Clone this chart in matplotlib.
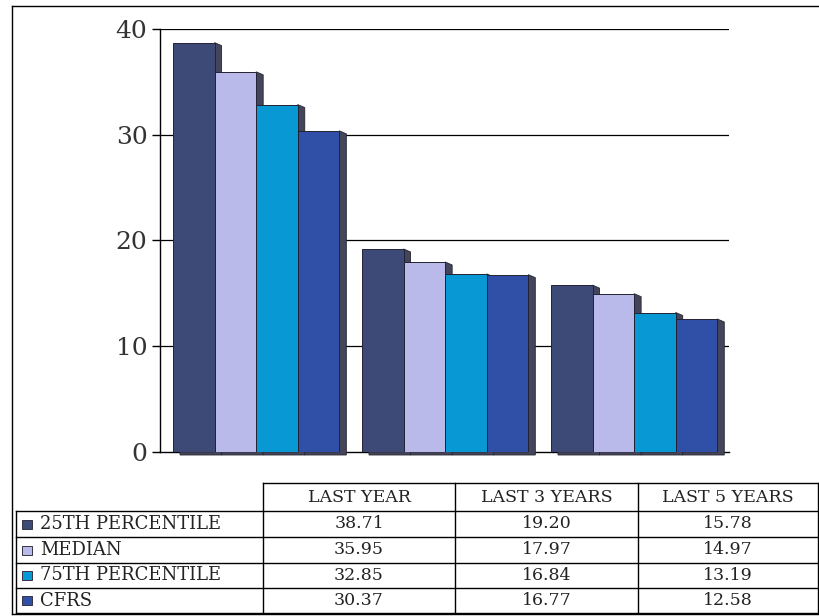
import matplotlib.pyplot as plt
import numpy as np
from matplotlib.patches import Rectangle, Polygon
from matplotlib.lines import Line2D

periods = ["LAST YEAR", "LAST 3 YEARS", "LAST 5 YEARS"]
series = ["25TH PERCENTILE", "MEDIAN", "75TH PERCENTILE", "CFRS"]
p25 = [38.71, 19.20, 15.78]
median = [35.95, 17.97, 14.97]
p75 = [32.85, 16.84, 13.19]
cfrs = [30.37, 16.77, 12.58]
colors = ["#3d4a78", "#b9b9ea", "#0898d4", "#3050a8"]

values = [p25, median, p75, cfrs]
W, H = 819, 616
fig = plt.figure(figsize=(W / 100, H / 100), dpi=100)

def fx(x):
    return x / W

def fy(y):
    return 1 - y / H

ax = fig.add_axes([fx(160), fy(452), (729 - 160) / W, (452 - 29) / H])
ax.set_xlim(-0.519, 2.492)
ax.set_ylim(0, 40)

# gridlines
for t in [10, 20, 30, 40]:
    ax.axhline(t, color="black", lw=0.9, zorder=0)

width = 0.22
dx = 7 / 189
dy = 3 * 40 / 423
x = np.arange(len(periods))
for i, (vals, c) in enumerate(zip(values, colors)):
    xs = x + (i - 1.5) * width - width / 2 - 0.01
    for x0, v in zip(xs, vals):
        # shadow / depth
        shadow = Polygon([(x0 + width, v), (x0 + width + dx, v - dy),
                          (x0 + width + dx, -dy), (x0 + dx, -dy),
                          (x0 + dx, 0), (x0 + width, 0)],
                         closed=True, facecolor="#44445a", edgecolor="#262630",
                         lw=0.6, zorder=2, clip_on=False)
        ax.add_patch(shadow)
    ax.bar(xs, vals, width=width, align="edge", color=c, edgecolor="#222233",
           lw=0.7, zorder=3)

for s in ["top", "right"]:
    ax.spines[s].set_visible(False)
ax.spines["left"].set_linewidth(1.0)
ax.spines["bottom"].set_linewidth(1.0)
ax.spines["bottom"].set_zorder(1)
ax.set_xticks([])
ax.set_yticks([0, 10, 20, 30, 40])
ax.tick_params(axis="y", direction="out", length=6, width=1.0, pad=3,
               labelsize=18)
for lab in ax.get_yticklabels():
    lab.set_fontfamily("DejaVu Serif")
    lab.set_color("#333333")

# outer frame
lk = dict(color="black", lw=1.0, transform=fig.transFigure)
fig.add_artist(Line2D([fx(12), fx(12)], [fy(6), fy(614)], **lk))
fig.add_artist(Line2D([fx(12), fx(819)], [fy(6), fy(6)], **lk))
fig.add_artist(Line2D([fx(12), fx(819)], [fy(614), fy(614)], **lk))

# data table
col_edges = [16, 263, 455, 638, 818]
row_edges = [511, 537, 563, 588, 613]
fig.add_artist(Line2D([fx(263), fx(818)], [fy(483), fy(483)], **lk))
for yy in row_edges:
    fig.add_artist(Line2D([fx(16), fx(818)], [fy(yy), fy(yy)], **lk))
fig.add_artist(Line2D([fx(16), fx(16)], [fy(511), fy(613)], **lk))
for xx in col_edges[1:]:
    fig.add_artist(Line2D([fx(xx), fx(xx)], [fy(483), fy(613)], **lk))

tk = dict(fontfamily="DejaVu Serif", fontsize=12.5, color="#222222",
          ha="center", va="center")
for j, p in enumerate(periods):
    xc = (col_edges[j + 1] + col_edges[j + 2]) / 2
    fig.text(fx(xc), fy(497), p, **tk)
for i, (name, vals, c) in enumerate(zip(series, values, colors)):
    yc = (row_edges[i] + row_edges[i + 1]) / 2
    fig.add_artist(Rectangle((fx(22), fy(yc + 4.5)), 10 / W, 9 / H,
                             facecolor=c, edgecolor="#333344", lw=0.7,
                             transform=fig.transFigure))
    fig.text(fx(40), fy(yc), name, fontfamily="DejaVu Serif", fontsize=13,
             color="#222222", ha="left", va="center")
    for j, v in enumerate(vals):
        xc = (col_edges[j + 1] + col_edges[j + 2]) / 2
        fig.text(fx(xc), fy(yc), "%.2f" % v, **tk)

fig.savefig("out.png", dpi=100)
